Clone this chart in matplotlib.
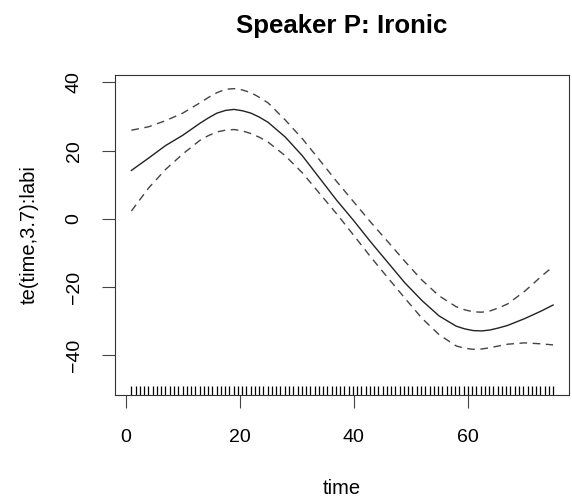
import matplotlib
matplotlib.use("Agg")
import matplotlib.pyplot as plt
import numpy as np

# smooth term te(time,3.7):labi
time = [1, 4, 7, 10, 13, 14.5, 16, 17.5, 19, 20.5, 22, 23.5, 25, 28, 31, 34, 37, 40, 43, 46, 49, 52, 55, 58,
        59.5, 61, 62.5, 64, 65.5, 67, 70, 73, 75]
fit = [14.2, 17.8, 21.5, 24.5, 28.0, 29.6, 31.0, 31.8, 32.1, 31.7, 31.0, 29.8, 28.3, 24.0, 18.5, 12.0, 5.5,
       -0.5, -6.8, -12.8, -18.8, -24.0, -28.5, -31.5, -32.3, -32.8, -32.9, -32.6, -32.0, -31.3, -29.3, -27.0, -25.3]
upper = [26.0, 27.0, 28.8, 31.0, 34.0, 35.6, 37.0, 38.0, 38.2, 37.8, 37.0, 35.6, 34.0, 29.0, 23.5, 17.3, 11.0,
         5.0, -1.0, -6.7, -12.5, -18.0, -22.6, -25.8, -26.7, -27.3, -27.4, -27.0, -26.1, -25.0, -21.3, -16.8, -14.0]
lower = [2.3, 9.0, 14.5, 19.0, 23.0, 24.4, 25.5, 26.0, 26.2, 25.8, 25.0, 23.9, 22.5, 18.5, 13.5, 7.5, 1.5,
         -4.8, -11.2, -17.3, -23.3, -29.2, -34.0, -37.3, -38.0, -38.3, -38.2, -37.8, -37.3, -36.8, -36.4, -36.7, -37.0]

# rug of observed time values
rug = [1.00, 1.75, 2.49, 3.24, 3.99, 4.74, 5.48, 6.23, 6.98, 7.73,
       8.47, 9.22, 9.97, 10.72, 11.46, 12.21, 12.96, 13.71, 14.45, 15.20,
       15.95, 16.70, 17.44, 18.19, 18.94, 19.69, 20.43, 21.18, 21.93, 22.68,
       23.42, 24.17, 24.92, 25.67, 26.41, 27.16, 27.91, 28.66, 29.40, 30.15,
       30.90, 31.65, 32.39, 33.14, 33.89, 34.64, 35.38, 36.13, 36.88, 37.63,
       38.37, 39.12, 39.87, 40.62, 41.36, 42.11, 42.86, 43.61, 44.35, 45.10,
       45.85, 46.60, 47.34, 48.09, 48.84, 49.59, 50.33, 51.08, 51.83, 52.58,
       53.32, 54.07, 54.82, 55.57, 56.31, 57.06, 57.81, 58.56, 59.30, 60.05,
       60.80, 61.55, 62.29, 63.04, 63.79, 64.54, 65.28, 66.03, 66.78, 67.53,
       68.27, 69.02, 69.77, 70.52, 71.26, 72.01, 72.76, 73.51, 74.25, 75.00]

xticks = [0, 20, 40, 60]
yticks = [-40, -20, 0, 20, 40]

plt.rcParams['font.family'] = ['Liberation Sans', 'DejaVu Sans']

fig = plt.figure(figsize=(5.72, 4.99), dpi=100)
ax = fig.add_axes([115/572, 1-395/499, 454/572, 320/499])

ylo, yhi = -51.7, 42.2
ax.plot(time, fit, color='#222222', lw=1.0)
ax.plot(time, upper, color='#444444', lw=1.0, dashes=(5.5, 4))
ax.plot(time, lower, color='#444444', lw=1.0, dashes=(5.5, 4))
ax.vlines(rug, ylo, ylo + 2.7, color='black', lw=0.9)

ax.set_xlim(-1.88, 77.8)
ax.set_ylim(ylo, yhi)
ax.set_xticks(xticks)
ax.set_yticks(yticks)
ax.tick_params(length=9.4, width=0.8, color='#444444', labelsize=14)
ax.tick_params(axis='x', pad=15)
ax.tick_params(axis='y', pad=14)
for lab in ax.get_yticklabels():
    lab.set_rotation(90)
    lab.set_va('center')
for s in ax.spines.values():
    s.set_linewidth(0.8)
    s.set_color('#333333')

ax.set_xlabel('time', fontsize=14.5, labelpad=24)
ax.set_ylabel('te(time,3.7):labi', fontsize=14.5, labelpad=19)
ax.set_title('Speaker P: Ironic', fontsize=18.6, fontweight='bold', pad=30)

fig.savefig('out.png', dpi=100)
